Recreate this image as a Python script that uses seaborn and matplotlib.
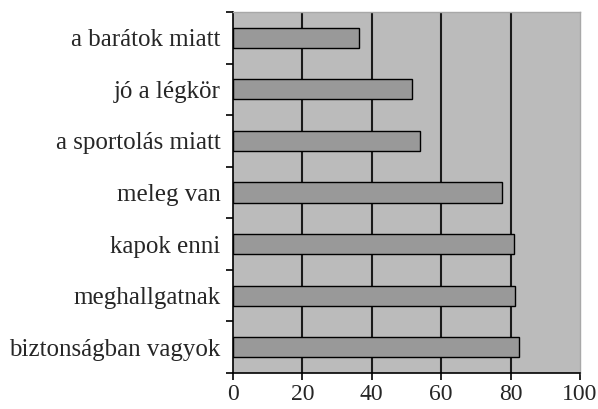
import matplotlib
matplotlib.use("Agg")
import numpy as np
import pandas as pd
import matplotlib.pyplot as plt
import seaborn as sns

reasons = ["a barátok miatt", "jó a légkör", "a sportolás miatt", "meleg van",
           "kapok enni", "meghallgatnak", "biztonságban vagyok"]
percent = [36.3, 51.6, 54.0, 77.5, 81.0, 81.4, 82.4]

df = pd.DataFrame({"reason": reasons, "percent": percent})

sns.set_style("white")
plt.rcParams["font.family"] = ["Liberation Serif", "DejaVu Serif"]

fig = plt.figure(figsize=(5.98, 4.09), dpi=100)
ax = fig.add_axes([0.3896, 0.0880, 0.5803, 0.8827])
ax.set_facecolor("#bbbbbb")

sns.barplot(data=df, x="percent", y="reason", orient="h", color="#999999",
            edgecolor="black", linewidth=1.0, width=0.39, saturation=1, ax=ax)

ax.set_xlim(0, 100)
ax.set_ylim(6.5, -0.5)
ax.set_xticks([0, 20, 40, 60, 80, 100])
ax.set_xlabel("")
ax.set_ylabel("")
ax.set_axisbelow(True)
for v in [20, 40, 60, 80]:
    ax.axvline(v, color="#1a1a1a", lw=1.5, zorder=0.5)

ax.set_yticks(np.arange(-0.5, 7, 1), minor=True)
ax.tick_params(axis="y", which="major", length=0, labelsize=18, pad=9)
ax.tick_params(axis="y", which="minor", length=5, width=1.2, color="black", direction="out", left=True)
ax.tick_params(axis="x", which="major", length=5, width=1.2, color="black", direction="out",
               labelsize=17, pad=3, bottom=True)

for side in ["left", "bottom"]:
    ax.spines[side].set_color("black")
    ax.spines[side].set_linewidth(1.2)
for side in ["top", "right"]:
    ax.spines[side].set_color("#a8a8a8")
    ax.spines[side].set_linewidth(1.0)

fig.savefig("out.png", dpi=100)
